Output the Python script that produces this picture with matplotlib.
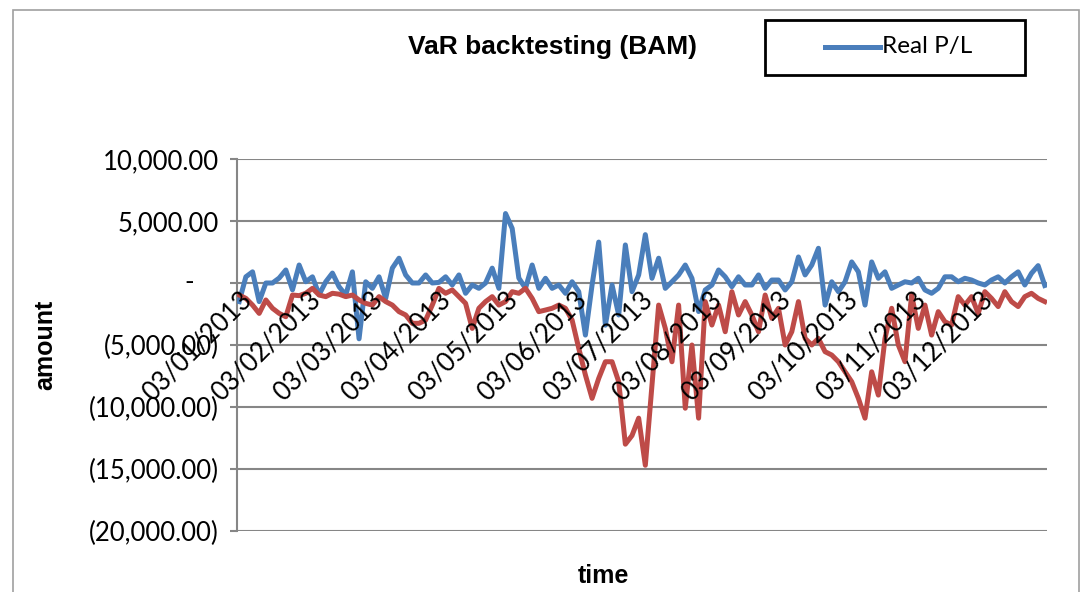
import matplotlib
matplotlib.use("Agg")
import matplotlib.pyplot as plt
import matplotlib.dates as mdates
import pandas as pd
from datetime import date

plt.rcParams['font.family'] = ['Lato', 'DejaVu Sans']

# one reading every 3 days, 02/01/2013 .. 31/12/2013
dates = pd.date_range("2013-01-02", "2013-12-31", freq="3D")

real_pl = [-1500, 500, 900, -1500, 0, 0, 400, 1050, -550, 1450,
           100, 500, -950, 100, 800, -300, -970, 900, -4500, 100,
           -430, 500, -1240, 1200, 2000, 650, 0, 0, 650, 0,
           50, 500, -160, 650, -830, -160, -430, 0, 1200, -430,
           5600, 4400, 400, -430, 1450, -430, 380, -430, -160, -830,
           100, -700, -4200, -160, 3300, -3400, -160, -2580, 3070, -700,
           650, 3900, 380, 2000, -430, 100, 650, 1450, 380, -2300,
           -560, -160, 1050, 500, -300, 500, -160, -160, 650, -430,
           240, 240, -560, 100, 2100, 650, 1450, 2800, -1780, 100,
           -700, 100, 1700, 900, -1780, 1700, 380, 900, -430, -160,
           100, 0, 380, -560, -830, -430, 500, 500, 100, 380,
           240, 0, -160, 240, 500, 0, 500, 900, -160, 780,
           1400, -200]

var_est = [-970, -1240, -1780, -2450, -1370, -2040, -2450, -2720, -970, -1020,
           -830, -430, -970, -1100, -830, -900, -1100, -970, -1370, -1640,
           -1780, -1100, -1500, -1780, -2310, -2580, -3250, -3250, -2990, -1780,
           -430, -830, -560, -1100, -1640, -3660, -2040, -1500, -1100, -1780,
           -1500, -700, -830, -430, -1240, -2310, -2180, -2040, -1780, -2040,
           -2990, -5270, -7420, -9300, -7690, -6350, -6350, -7960, -13000, -12300,
           -10900, -14700, -8230, -1780, -3660, -6350, -1780, -10100, -5000, -10900,
           -1500, -3390, -1780, -3930, -700, -2580, -1500, -2580, -3930, -970,
           -2850, -2040, -5000, -3930, -1500, -4470, -5000, -4470, -5540, -5810,
           -6350, -7160, -7960, -9300, -10900, -7160, -9040, -4470, -2040, -5000,
           -6350, -970, -3660, -1780, -4200, -2310, -3120, -3390, -1100, -1780,
           -1100, -2450, -700, -1240, -1900, -700, -1500, -1900, -1100, -830,
           -1240, -1500]

yticks = [-20000, -15000, -10000, -5000, 0, 5000, 10000]
ylabels = ["(20,000.00)", "(15,000.00)", "(10,000.00)", "(5,000.00)", "",
           "5,000.00", "10,000.00"]
month_ticks = [date(2013, m, 3) for m in range(1, 13)]
month_labels = [d.strftime("%d/%m/%Y") for d in month_ticks]

blue = "#4A7EBB"
red = "#BE4B48"
grid = "#868686"

fig = plt.figure(figsize=(10.82, 5.92), dpi=100)
ax = fig.add_axes([237/1082, 61/592, 810/1082, 372/592])

# outer chart frame
fig.add_artist(plt.Rectangle((13/1082, -0.1), 1066/1082, 1.1 - 10/592,
                             transform=fig.transFigure, fill=False,
                             edgecolor="#A0A0A0", lw=1.2))

ax.plot(dates, real_pl, color=blue, lw=3.6, solid_joinstyle="round",
        label="Real P/L", zorder=3)
ax.plot(dates, var_est, color=red, lw=3.6, solid_joinstyle="round", zorder=4)

ax.set_ylim(-20000, 10000)
ax.set_xlim(date(2013, 1, 1), date(2014, 1, 1))
ax.set_yticks(yticks)
ax.set_yticklabels(ylabels, fontsize=18.5)
ax.set_xticks([])
for y in yticks:
  ax.axhline(y, color=grid, lw=1.5, zorder=1)
ax.tick_params(axis="y", length=5, color=grid, width=1.5, pad=8)
for s in ["top", "right", "bottom"]:
  ax.spines[s].set_visible(False)
ax.spines["left"].set_color(grid)
ax.spines["left"].set_linewidth(1.5)

ax.annotate("-", xy=(0, 0), xycoords=("axes fraction", "data"),
            xytext=(-31, 0), textcoords="offset points",
            ha="right", va="center", fontsize=18.5)

for d, lab in zip(month_ticks, month_labels):
  ax.annotate(lab, xy=(mdates.date2num(d), 0), xytext=(-2, -3),
              textcoords="offset points", rotation=45, ha="right", va="top",
              rotation_mode="anchor", fontsize=18.5, zorder=5)

fig.text(553/1082, 1 - 47/592, "VaR backtesting (BAM)", ha="center",
         va="center", fontsize=19, fontweight="bold",
         family="Liberation Sans")
fig.text(45/1082, 1 - 345/592, "amount", ha="center", va="center",
         rotation=90, fontsize=18, fontweight="bold", family="Liberation Sans")
fig.text(603/1082, 1 - 576/592, "time", ha="center", va="center",
         fontsize=18, fontweight="bold", family="Liberation Sans")

# legend box
fig.add_artist(plt.Rectangle((765/1082, 1 - 75/592), 260/1082, 55/592,
                             transform=fig.transFigure, fill=False,
                             edgecolor="black", lw=2))
fig.add_artist(plt.Line2D([825/1082, 880/1082], [1 - 47/592, 1 - 47/592],
                          transform=fig.transFigure, color=blue, lw=3.6))
fig.text(882/1082, 1 - 47/592, "Real P/L", ha="left", va="center", fontsize=17.5)

fig.savefig("out.png", dpi=100)
